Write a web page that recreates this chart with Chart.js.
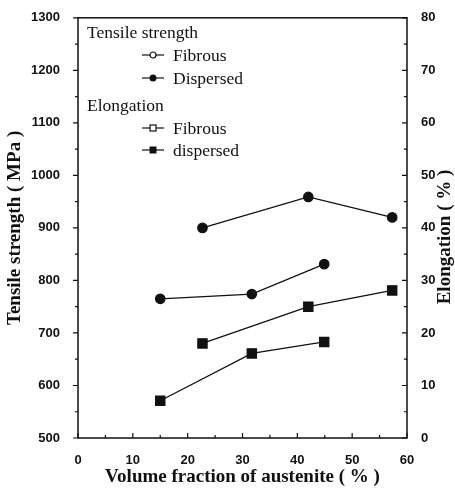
<!DOCTYPE html>
<html lang="en">
  <head>
    <meta charset="UTF-8" />
    <title>Tensile strength and elongation vs austenite fraction</title>
    <script src="https://cdn.jsdelivr.net/npm/chart.js@4.4.0/dist/chart.umd.min.js"></script>
    <style>
      body { margin: 0; background: #fff; }
      .wrap { position: relative; width: 455px; height: 496px; }
      .legend {
        position: absolute; left: 0; top: 0;
        font-family: "Liberation Serif", "Times New Roman", serif;
        font-size: 17.5px; color: #111;
      }
      .legend div { position: absolute; white-space: nowrap; line-height: 20px; }
      .legend svg { position: absolute; }
    </style>
  </head>
  <body>
    <div class="wrap">
      <canvas id="chart" width="455" height="496"></canvas>
      <div class="legend" aria-label="Legend">
        <div style="left:87px; top:22px">Tensile strength</div>
        <svg style="left:142px; top:50px" width="22" height="10">
          <line x1="0" y1="5" x2="22" y2="5" stroke="#111" stroke-width="1.2" />
          <circle cx="11" cy="5" r="3" fill="#fff" stroke="#111" stroke-width="1.2" />
        </svg>
        <div style="left:173px; top:45px">Fibrous</div>
        <svg style="left:142px; top:73px" width="22" height="10">
          <line x1="0" y1="5" x2="22" y2="5" stroke="#111" stroke-width="1.2" />
          <circle cx="11" cy="5" r="3.5" fill="#111" />
        </svg>
        <div style="left:173px; top:68px">Dispersed</div>
        <div style="left:87px; top:95px">Elongation</div>
        <svg style="left:142px; top:123px" width="22" height="10">
          <line x1="0" y1="5" x2="22" y2="5" stroke="#111" stroke-width="1.2" />
          <rect x="8" y="2" width="6" height="6" fill="#fff" stroke="#111" stroke-width="1.2" />
        </svg>
        <div style="left:173px; top:118px">Fibrous</div>
        <svg style="left:142px; top:145px" width="22" height="10">
          <line x1="0" y1="5" x2="22" y2="5" stroke="#111" stroke-width="1.2" />
          <rect x="7.5" y="1.5" width="7" height="7" fill="#111" />
        </svg>
        <div style="left:173px; top:140px">dispersed</div>
      </div>
    </div>
    <script>
      // Volume fraction of austenite (%)
      const fibrousVf = [22.7, 42.0, 57.3];
      const dispersedVf = [15.0, 31.7, 44.9];

      // Tensile strength (MPa)
      const tsFibrous = [900, 959, 920];
      const tsDispersed = [765, 774, 831];

      // Elongation (%)
      const elFibrous = [18.0, 25.0, 28.1];
      const elDispersed = [7.1, 16.1, 18.3];

      const xTicks = [0, 10, 20, 30, 40, 50, 60];
      const tsTicks = [500, 600, 700, 800, 900, 1000, 1100, 1200, 1300];
      const elTicks = [0, 10, 20, 30, 40, 50, 60, 70, 80];

      const ink = "#111";
      const tickFont = { family: "'Liberation Sans', Arial, sans-serif", size: 13, weight: "bold" };
      const titleFont = { family: "'Liberation Serif', 'Times New Roman', serif", size: 19, weight: "bold" };

      function pairs(xs, ys) {
        return xs.map((x, i) => ({ x: x, y: ys[i] }));
      }

      function series(label, xs, ys, axis, style, radius) {
        return {
          label: label,
          data: pairs(xs, ys),
          yAxisID: axis,
          borderColor: ink,
          backgroundColor: ink,
          borderWidth: 1.3,
          pointStyle: style,
          pointRadius: radius,
          pointBackgroundColor: ink,
          pointBorderColor: ink,
          tension: 0,
        };
      }

      const plain = (v) => String(v);

      // frame, tick marks (major + minor) and the right-hand title
      const framePlugin = {
        id: "frame",
        afterDatasetsDraw(chart) {
          const { ctx, chartArea: a, scales } = chart;
          ctx.save();
          ctx.strokeStyle = ink;
          ctx.lineWidth = 1.5;
          ctx.strokeRect(a.left, a.top, a.right - a.left, a.bottom - a.top);

          ctx.lineWidth = 1.2;
          ctx.beginPath();
          // bottom axis, ticks pointing up
          for (let v = 0; v <= 60; v += 5) {
            const px = scales.x.getPixelForValue(v);
            const len = v % 10 === 0 ? 5 : 3;
            ctx.moveTo(px, a.bottom);
            ctx.lineTo(px, a.bottom - len);
          }
          // left axis, ticks pointing out
          for (let v = 500; v <= 1300; v += 50) {
            const py = scales.y.getPixelForValue(v);
            const len = v % 100 === 0 ? 5 : 3;
            ctx.moveTo(a.left, py);
            ctx.lineTo(a.left - len, py);
          }
          // right axis, ticks pointing in
          for (let v = 0; v <= 80; v += 5) {
            const py = scales.y2.getPixelForValue(v);
            const len = v % 10 === 0 ? 5 : 3;
            ctx.moveTo(a.right, py);
            ctx.lineTo(a.right - len, py);
          }
          ctx.stroke();

          ctx.fillStyle = ink;
          ctx.font = "bold 19px 'Liberation Serif', 'Times New Roman', serif";
          ctx.textAlign = "center";
          ctx.textBaseline = "middle";
          ctx.translate(445, 237);
          ctx.rotate(-Math.PI / 2);
          ctx.fillText("Elongation ( % )", 0, 0);
          ctx.restore();
        },
      };

      new Chart(document.getElementById("chart"), {
        type: "line",
        data: {
          datasets: [
            series("Tensile strength - Fibrous", fibrousVf, tsFibrous, "y", "circle", 4.7),
            series("Tensile strength - Dispersed", dispersedVf, tsDispersed, "y", "circle", 4.7),
            series("Elongation - Fibrous", fibrousVf, elFibrous, "y2", "rect", 6.5),
            series("Elongation - dispersed", dispersedVf, elDispersed, "y2", "rect", 6.5),
          ],
        },
        options: {
          responsive: false,
          animation: false,
          layout: { padding: { top: 10, left: 0, right: 0, bottom: 0 } },
          plugins: { legend: { display: false }, tooltip: { enabled: false } },
          scales: {
            x: {
              type: "linear",
              min: 0,
              max: 60,
              afterFit(s) { s.height = 58; },
              afterBuildTicks(s) { s.ticks = xTicks.map((v) => ({ value: v })); },
              grid: { display: false },
              border: { display: false },
              ticks: { color: ink, font: tickFont, padding: 7, maxRotation: 0, callback: plain },
              title: {
                display: true,
                text: "Volume fraction of austenite ( % )",
                color: ink,
                font: titleFont,
                padding: { top: 0, bottom: 8 },
              },
            },
            y: {
              position: "left",
              min: 500,
              max: 1300,
              afterFit(s) { s.width = 78; },
              afterBuildTicks(s) { s.ticks = tsTicks.map((v) => ({ value: v })); },
              grid: { display: false },
              border: { display: false },
              ticks: { color: ink, font: tickFont, padding: 10, callback: plain },
              title: {
                display: true,
                text: "Tensile strength ( MPa )",
                color: ink,
                font: titleFont,
                padding: { top: 4, bottom: 0 },
              },
            },
            y2: {
              position: "right",
              min: 0,
              max: 80,
              afterFit(s) { s.width = 48; },
              afterBuildTicks(s) { s.ticks = elTicks.map((v) => ({ value: v })); },
              grid: { display: false },
              border: { display: false },
              ticks: { color: ink, font: tickFont, padding: 6, callback: plain },
            },
          },
        },
        plugins: [framePlugin],
      });
    </script>
  </body>
</html>
